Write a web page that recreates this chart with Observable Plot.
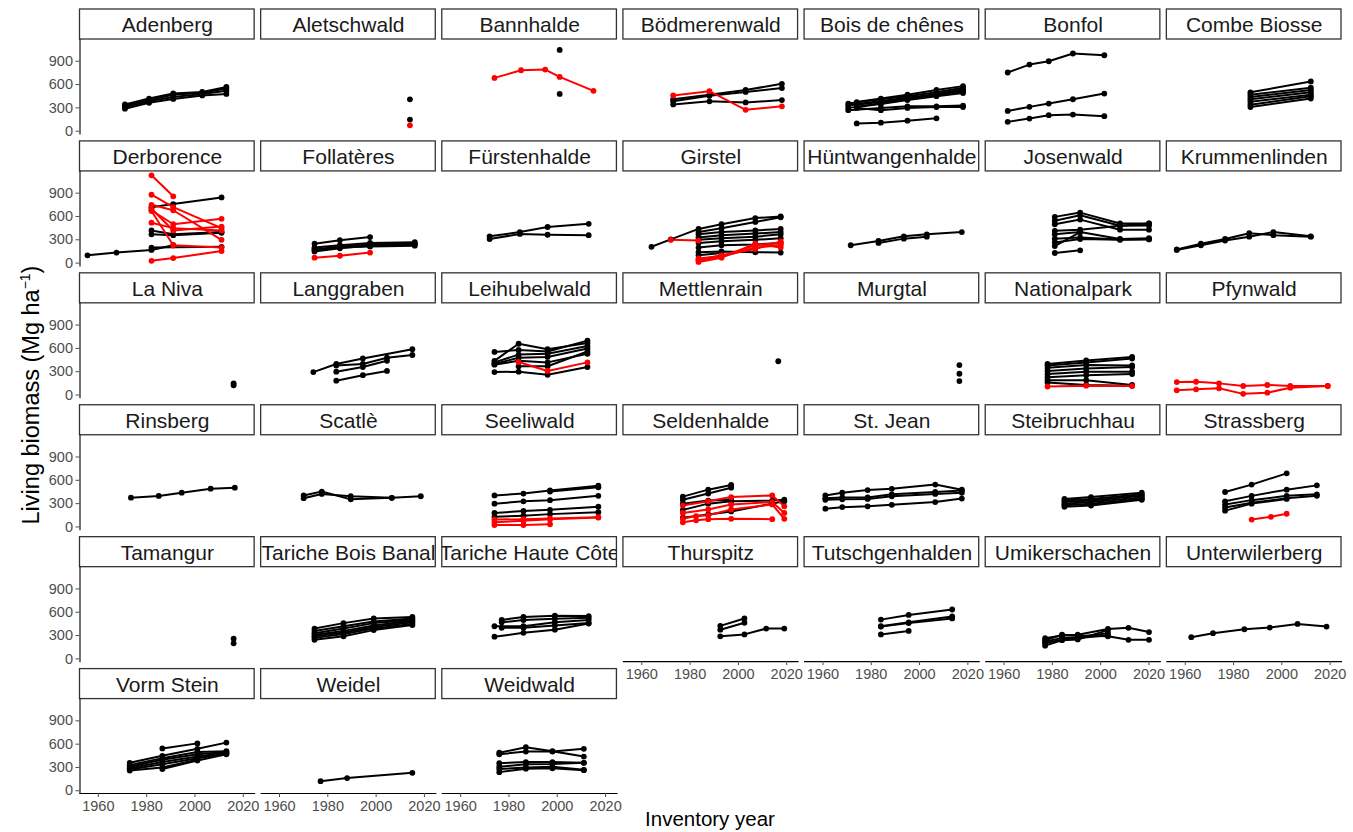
<!DOCTYPE html>
<html><head><meta charset="utf-8">
<script src="https://cdn.jsdelivr.net/npm/d3@7"></script>
<script src="https://cdn.jsdelivr.net/npm/@observablehq/plot@0.6"></script>
<style>
body{margin:0;background:#fff;}
#wrap{position:relative;width:1353px;height:832px;font-family:"Liberation Sans",Arial,sans-serif;}
#xtitle{position:absolute;left:79px;width:1262px;top:807px;text-align:center;font-size:20.5px;color:#000;}
#ytitle{position:absolute;left:31px;top:395px;transform:translate(-50%,-50%) rotate(-90deg);white-space:nowrap;font-size:23.5px;color:#000;}
#ytitle sup{font-size:14px;}
</style></head><body>
<div id="wrap"><div id="xtitle">Inventory year</div><div id="ytitle">Living biomass (Mg ha<sup>−1</sup>)</div></div>
<script>
// ---- data: each line = [status ("k" = black, "r" = red), [year, biomass], ...]
const siteNames = ["Adenberg","Aletschwald","Bannhalde","Bödmerenwald","Bois de chênes","Bonfol","Combe Biosse",
 "Derborence","Follatères","Fürstenhalde","Girstel","Hüntwangenhalde","Josenwald","Krummenlinden",
 "La Niva","Langgraben","Leihubelwald","Mettlenrain","Murgtal","Nationalpark","Pfynwald",
 "Rinsberg","Scatlè","Seeliwald","Seldenhalde","St. Jean","Steibruchhau","Strassberg",
 "Tamangur","Tariche Bois Banal","Tariche Haute Côte","Thurspitz","Tutschgenhalden","Umikerschachen","Unterwilerberg",
 "Vorm Stein","Weidel","Weidwald"];
const xTicks = [1960, 1980, 2000, 2020];
const yTicks = [0, 300, 600, 900];

const adenberg = [
 ["k",[1971,290],[1981,365],[1991,415],[2003,460],[2013,480]],
 ["k",[1971,310],[1981,385],[1991,440],[2003,480],[2013,520]],
 ["k",[1971,330],[1981,400],[1991,470],[2003,495],[2013,550]],
 ["k",[1971,345],[1981,420],[1991,485],[2003,505],[2013,570]]];
const aletschwald = [["k",[2014,410]],["k",[2014,150]],["r",[2014,75]]];
const bannhalde = [["r",[1974,686],[1985,784],[1995,793],[2001,699],[2015,519]],["k",[2001,1046]],["k",[2001,480]]];
const boedmerenwald = [
 ["k",[1973,410],[1988,470],[2003,530],[2018,610]],
 ["k",[1973,385],[1988,455],[2003,505],[2018,555]],
 ["k",[1973,345],[1988,385],[2003,370],[2018,400]],
 ["r",[1973,460],[1988,515],[2003,275],[2018,320]]];
const boisDeChenes = [
 ["k",[1970.5,355],[1984,410],[1995,450],[2007,500],[2018,560]],
 ["k",[1970.5,330],[1984,390],[1995,430],[2007,480],[2018,540]],
 ["k",[1974,375],[1984,420],[1995,470],[2007,530],[2018,580]],
 ["k",[1974,340],[1984,380],[1995,420],[2007,470],[2018,510]],
 ["k",[1970.5,300],[1984,350],[1995,400],[2007,450],[2018,490]],
 ["k",[1974,310],[1984,360],[1995,410],[2007,460],[2018,520]],
 ["k",[1970.5,270],[1984,300],[1995,320],[2007,320],[2018,330]],
 ["k",[1974,300],[1984,270],[1995,300],[2007,310],[2018,310]],
 ["k",[1974,100],[1984,110],[1995,135],[2007,165]]];
const bonfol = [
 ["k",[1961.5,755],[1970.5,857],[1978.5,900],[1988.5,1000],[2001.5,977]],
 ["k",[1961.5,261],[1970.5,313],[1978.5,356],[1988.5,411],[2001.5,484]],
 ["k",[1961.5,120],[1970.5,163],[1978.5,206],[1988.5,214],[2001.5,193]]];
const combeBiosse = [
 ["k",[1987,500],[2012,640]],["k",[1987,470],[2012,560]],["k",[1987,440],[2012,530]],
 ["k",[1987,410],[2012,500]],["k",[1987,380],[2012,470]],["k",[1987,340],[2012,450]],["k",[1987,310],[2012,420]]];
const derborence = [
 ["k",[1955.5,100],[1967.5,135],[1982,170],[1991,230]],
 ["k",[1982,720],[1991,760],[2011,845]],
 ["k",[1982,420],[1991,370],[2011,400]],
 ["k",[1982,370],[1991,360],[2011,390]],
 ["k",[1982,200],[2011,210]],
 ["r",[1982,1130],[1991,860]],
 ["r",[1982,880],[1991,720],[2011,450]],
 ["r",[1982,750],[1991,680],[2011,300]],
 ["r",[1982,680],[1991,500],[2011,570]],
 ["r",[1982,700],[1991,420],[2011,470]],
 ["r",[1982,520],[1991,450],[2011,420]],
 ["r",[1982,670],[1991,230],[2011,200]],
 ["r",[1982,30],[1991,65],[2011,155]]];
const follateres = [
 ["k",[1974.5,250],[1985,295],[1997.5,335]],
 ["k",[1974.5,200],[1985,230],[1997.5,260],[2016,270]],
 ["k",[1974.5,180],[1985,210],[1997.5,240],[2016,255]],
 ["k",[1974.5,150],[1985,190],[1997.5,225],[2016,240]],
 ["k",[1974.5,170],[1985,200],[1997.5,215],[2016,225]],
 ["r",[1974.5,70],[1985,95],[1997.5,135]]];
const fuerstenhalde = [
 ["k",[1972,345],[1984.5,400],[1996,465],[2013,505]],
 ["k",[1972,310],[1984.5,375],[1996,365],[2013,360]]];
const girstel = [
 ["k",[1964,210],[1972,305],[1983.5,440],[1993,500],[2007,580],[2017.5,600]],
 ["k",[1983.5,400],[1993,450],[2007,530],[2017.5,590]],
 ["k",[1983.5,370],[1993,400],[2007,420],[2017.5,440]],
 ["k",[1983.5,330],[1993,360],[2007,380],[2017.5,400]],
 ["k",[1983.5,300],[1993,320],[2007,340],[2017.5,370]],
 ["k",[1983.5,260],[1993,280],[2007,300],[2017.5,320]],
 ["k",[1983.5,200],[1993,230],[2007,240],[2017.5,260]],
 ["k",[1983.5,140],[1993,150],[2007,140],[2017.5,135]],
 ["k",[1983.5,100],[1993,130]],
 ["r",[1972,300],[1983.5,290]],
 ["r",[1983.5,60],[1993,90],[2007,230],[2017.5,260]],
 ["r",[1983.5,30],[1993,80],[2007,200],[2017.5,230]],
 ["r",[1983.5,15],[1993,70],[2007,250],[2017.5,200]],
 ["r",[1983.5,45],[1993,100],[2007,180],[2017.5,280]]];
const huentwangenhalde = [
 ["k",[1971.5,230],[1983,285],[1993.5,345],[2003,370],[2017.5,400]],
 ["k",[1983,260],[1993.5,315],[2003,340]]];
const josenwald = [
 ["k",[1981,595],[1991.5,650],[2008,510],[2020,510]],
 ["k",[1981,545],[1991.5,615],[2008,480],[2020,485]],
 ["k",[1981,500],[1991.5,560],[2008,430],[2020,430]],
 ["k",[1981,415],[1991.5,430],[2008,480],[2020,510]],
 ["k",[1981,370],[1991.5,400],[2008,310],[2020,320]],
 ["k",[1981,315],[1991.5,330],[2008,305],[2020,310]],
 ["k",[1981,265],[1991.5,310],[2008,300],[2020,305]],
 ["k",[1981,220],[1991.5,400]],
 ["k",[1981,130],[1991.5,165]]];
const krummenlinden = [
 ["k",[1956.5,175],[1966.5,250],[1976.5,310],[1986.5,385],[1996.5,360],[2012,340]],
 ["k",[1956.5,170],[1966.5,230],[1976.5,290],[1986.5,340],[1996.5,400],[2012,345]]];
const laNiva = [["k",[2016,150]],["k",[2016,125]]];
const langgraben = [
 ["k",[1974,295],[1983.5,400],[1994.5,470],[2015,590]],
 ["k",[1983.5,380],[1994.5,400],[2004.5,480],[2015,515]],
 ["k",[1983.5,300],[1994.5,360],[2004.5,440]],
 ["k",[1983.5,185],[1994.5,255],[2004.5,310]]];
const leihubelwald = [
 ["k",[1974,555],[1984,580],[1996,560],[2012.5,700]],
 ["k",[1974,440],[1984,660],[1996,590],[2012.5,670]],
 ["k",[1974,420],[1984,520],[1996,530],[2012.5,630]],
 ["k",[1974,400],[1984,480],[1996,490],[2012.5,600]],
 ["k",[1974,390],[1984,440],[1996,420],[2012.5,530]],
 ["k",[1974,295],[1984,300],[1996,260],[2012.5,360]],
 ["k",[1984,370],[1996,370],[2012.5,560]],
 ["r",[1984,425],[1996,310],[2012.5,420]]];
const mettlenrain = [["k",[2016.5,435]]];
const murgtal = [["k",[2016.5,386]],["k",[2016.5,274]],["k",[2016.5,180]]];
const nationalpark = [
 ["k",[1978,400],[1994,445],[2013,490]],
 ["k",[1978,380],[1994,420],[2013,470]],
 ["k",[1978,350],[1994,385],[2013,380]],
 ["k",[1978,310],[1994,340],[2013,360]],
 ["k",[1978,270],[1994,300],[2013,300]],
 ["k",[1978,230],[1994,255],[2013,270]],
 ["k",[1978,190],[1994,190],[2013,130]],
 ["k",[1978,160],[1994,130],[2013,120]],
 ["r",[1978,110],[1994,120],[2013,115]]];
const pfynwald = [
 ["r",[1956.5,167],[1964.5,171],[1974,150],[1984,116],[1994,129],[2003.5,116],[2019,116]],
 ["r",[1956.5,60],[1964.5,73],[1974,86],[1984,15],[1994,30],[2003.5,94],[2019,116]]];
const rinsberg = [["k",[1973.5,377],[1985,399],[1994.5,441],[2006.5,493],[2016.5,506]]];
const scatle = [
 ["k",[1970,405],[1977.5,455],[1989.5,355],[2006.5,375],[2018.5,395]],
 ["k",[1970,370],[1977.5,425],[1989.5,395],[2006.5,375]]];
const seeliwald = [
 ["k",[1974,405],[1986,430],[1997,470],[2017,530]],
 ["k",[1997,455],[2017,510]],
 ["k",[1974,300],[1986,330],[1997,345],[2017,400]],
 ["k",[1974,180],[1986,205],[1997,220],[2017,260]],
 ["k",[1974,130],[1986,145],[1997,165],[2017,190]],
 ["r",[1974,95],[1986,100],[1997,110],[2017,125]],
 ["r",[1974,60],[1986,80],[1997,100],[2017,120]],
 ["r",[1974,25],[1986,25],[1997,35]]];
const seldenhalde = [
 ["k",[1977,390],[1987.5,480],[1997,540]],
 ["k",[1977,350],[1987.5,430],[1997,505]],
 ["k",[1977,300],[1987.5,340],[1997,350]],
 ["k",[1977,220],[1987.5,300],[1997,330],[2014,340],[2019,350]],
 ["k",[1977,120],[1987.5,160],[1997,200],[2014,300],[2019,330]],
 ["r",[1977,275],[1987.5,330],[1997,385],[2014,405],[2019,265]],
 ["r",[1977,180],[1987.5,225],[1997,290],[2014,320],[2019,180]],
 ["r",[1977,105],[1982.5,140],[1987.5,150],[1997,225],[2014,290],[2019,105]],
 ["r",[1977,60],[1982.5,85],[1987.5,100],[1997,105],[2014,100]]];
const stJean = [
 ["k",[1961,405],[1968,440],[1978.5,475],[1988.5,490],[2006.5,545],[2017.5,480]],
 ["k",[1961,370],[1968,380],[1978.5,380],[1988.5,420],[2006.5,450],[2017.5,470]],
 ["k",[1961,350],[1968,355],[1978.5,360],[1988.5,395],[2006.5,425],[2017.5,440]],
 ["k",[1961,235],[1968,255],[1978.5,265],[1988.5,285],[2006.5,320],[2017.5,365]]];
const steibruchhau = [
 ["k",[1985,360],[1996,385],[2017,440]],["k",[1985,340],[1996,360],[2017,420]],
 ["k",[1985,320],[1996,340],[2017,400]],["k",[1985,300],[1996,320],[2017,380]],
 ["k",[1985,280],[1996,300],[2017,360]],["k",[1985,260],[1996,275],[2017,350]]];
const strassberg = [
 ["k",[1976.5,450],[1987.5,545],[2002,690]],
 ["k",[1976.5,330],[1987.5,400],[2002,480],[2014.5,535]],
 ["k",[1976.5,290],[1987.5,345],[2002,400],[2014.5,420]],
 ["k",[1976.5,250],[1987.5,310],[2002,370],[2014.5,400]],
 ["k",[1976.5,210],[1987.5,300],[2002,360]],
 ["r",[1987.5,95],[1995.5,130],[2002,170]]];
const tamangur = [["k",[2016,260]],["k",[2016,200]]];
const taricheBoisBanal = [
 ["k",[1974.5,390],[1986.5,460],[1999,520],[2015,540]],
 ["k",[1974.5,360],[1986.5,420],[1999,480],[2015,520]],
 ["k",[1974.5,330],[1986.5,390],[1999,460],[2015,500]],
 ["k",[1974.5,310],[1986.5,360],[1999,430],[2015,490]],
 ["k",[1974.5,290],[1986.5,340],[1999,410],[2015,470]],
 ["k",[1974.5,270],[1986.5,320],[1999,390],[2015,450]],
 ["k",[1974.5,245],[1986.5,290],[1999,370],[2015,435]]];
const taricheHauteCote = [
 ["k",[1977,500],[1986,540],[1999,555],[2013,550]],
 ["k",[1977,470],[1986,500],[1999,515],[2013,530]],
 ["k",[1974,420],[1986,420],[1999,470],[2013,500]],
 ["k",[1977,400],[1986,400],[1999,430],[2013,460]],
 ["k",[1974,285],[1986,335],[1999,375],[2013,455]]];
const thurspitz = [
 ["k",[1992.5,425],[2002.5,520]],
 ["k",[1992.5,375],[2002.5,465]],
 ["k",[1992.5,290],[2002.5,315],[2011.5,390],[2019,390]]];
const tutschgenhalden = [
 ["k",[1984,505],[1995.5,565],[2013.5,635]],
 ["k",[1984,420],[1995.5,470],[2013.5,545]],
 ["k",[1984,415],[1995.5,460],[2013.5,520]],
 ["k",[1984,315],[1995.5,360]]];
const umikerschachen = [
 ["k",[1977,265],[1984,300],[1990.5,310],[2003,385],[2011.5,400],[2020,345]],
 ["k",[1977,240],[1984,310],[1990.5,300],[2003,290],[2011.5,245],[2020,245]],
 ["k",[1977,220],[1984,270],[1990.5,280],[2003,330]],
 ["k",[1977,200],[1984,250],[1990.5,270],[2003,300]],
 ["k",[1977,170],[1984,240],[1990.5,250],[2003,370]]];
const unterwilerberg = [["k",[1962.5,279],[1971.5,330],[1984.5,381],[1995,403],[2006.5,450],[2018.5,416]]];
const vormStein = [
 ["k",[1973,360],[1986.5,450],[2001,540],[2013,620]],
 ["k",[1986.5,545],[2001,610]],
 ["k",[1973,330],[1986.5,420],[2001,500],[2013,510]],
 ["k",[1973,310],[1986.5,400],[2001,470],[2013,500]],
 ["k",[1973,290],[1986.5,370],[2001,440],[2013,490]],
 ["k",[1973,275],[1986.5,340],[2001,420],[2013,480]],
 ["k",[1973,260],[1986.5,300],[2001,400]],
 ["k",[1986.5,280],[2001,390],[2013,470]]];
const weidel = [["k",[1977,124],[1988,163],[2015,231]]];
const weidwald = [
 ["k",[1976,490],[1987,560],[1998,510],[2011,440]],
 ["k",[1976,470],[1987,505],[1998,505],[2011,540]],
 ["k",[1976,355],[1987,370],[1998,370],[2011,360]],
 ["k",[1976,310],[1987,340],[1998,345],[2011,360]],
 ["k",[1976,280],[1987,300],[1998,310],[2011,270]],
 ["k",[1976,240],[1987,285],[1998,290],[2011,265]]];

const siteLines = [adenberg, aletschwald, bannhalde, boedmerenwald, boisDeChenes, bonfol, combeBiosse,
 derborence, follateres, fuerstenhalde, girstel, huentwangenhalde, josenwald, krummenlinden,
 laNiva, langgraben, leihubelwald, mettlenrain, murgtal, nationalpark, pfynwald,
 rinsberg, scatle, seeliwald, seldenhalde, stJean, steibruchhau, strassberg,
 tamangur, taricheBoisBanal, taricheHauteCote, thurspitz, tutschgenhalden, umikerschachen, unterwilerberg,
 vormStein, weidel, weidwald];

// ---- tidy tables
const nCol = 7, nRow = 6;
const sites = siteNames.map((name, i) => ({name, col: i % nCol, row: Math.floor(i / nCol)}));
let rows = [];
siteLines.forEach((lines, i) => {
  const s = sites[i];
  lines.forEach(([status, ...pts], j) => {
    pts.forEach(([year, value]) => rows.push({site: s.name, id: s.name + "#" + j, status, year, value, col: s.col, row: s.row}));
  });
});
rows = rows.filter(d => d.status === "k").concat(rows.filter(d => d.status === "r"));

// ---- layout
const W = 1353, H = 832, mL = 79.5, mR = 12, mT = 9, mB = 39;
const padX = 0.0359, padY = 0.0569;
const bandH = (H - mT - mB) / (nRow - padY) * (1 - padY);
const stripPx = 30;
const yLo = -35, yPanelTop = 1180;
const yTop = yLo + (yPanelTop - yLo) * bandH / (bandH - stripPx);

const chart = Plot.plot({
  width: W, height: H,
  marginLeft: mL, marginRight: mR, marginTop: mT, marginBottom: mB,
  style: {fontFamily: "'Liberation Sans', Arial, sans-serif", fontSize: "14.5px", background: "white"},
  facet: {marginTop: 0, marginRight: 0, marginBottom: 0, marginLeft: 0},
  fx: {domain: d3.range(nCol), paddingInner: padX, paddingOuter: 0, round: false, axis: null},
  fy: {domain: d3.range(nRow), paddingInner: padY, paddingOuter: 0, round: false, axis: null},
  x: {domain: [1952.4, 2024.7]},
  y: {domain: [yLo, yTop]},
  color: {domain: ["k", "r"], range: ["black", "#FF0000"]},
  marks: [
    Plot.rect(sites, {fx: "col", fy: "row", insetBottom: bandH - stripPx, fill: "white", stroke: "#333333", strokeWidth: 1.3}),
    Plot.text(sites, {fx: "col", fy: "row", text: "name", frameAnchor: "top", lineAnchor: "middle", dy: stripPx / 2 + 1, fontSize: 21, fill: "#1A1A1A", clip: "frame"}),
    Plot.frame({anchor: "left", insetTop: stripPx, facetAnchor: "left", stroke: "black", strokeWidth: 1.1}),
    Plot.frame({anchor: "bottom", facetAnchor: "bottom-empty", stroke: "black", strokeWidth: 1.1}),
    Plot.axisY({ticks: yTicks, facetAnchor: "left", tickSize: 4, tickPadding: 3, fontSize: 14.5, color: "#4D4D4D", label: null}),
    Plot.axisX({ticks: xTicks, facetAnchor: "bottom-empty", tickSize: 4, tickPadding: 3, fontSize: 14.5, color: "#4D4D4D", label: null, tickFormat: "d"}),
    Plot.line(rows, {fx: "col", fy: "row", x: "year", y: "value", z: "id", stroke: "status", strokeWidth: 2}),
    Plot.dot(rows, {fx: "col", fy: "row", x: "year", y: "value", fill: "status", r: 2.9})
  ]
});
document.getElementById("wrap").prepend(chart);
chart.style.position = "absolute"; chart.style.left = "0"; chart.style.top = "0";
</script>
</body></html>
